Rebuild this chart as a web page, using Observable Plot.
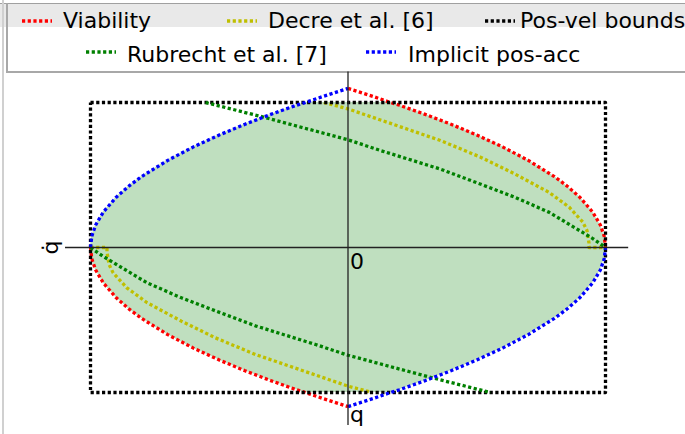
<!DOCTYPE html>
<html>
<head>
<meta charset="utf-8">
<script src="https://cdn.jsdelivr.net/npm/d3@7"></script>
<script src="https://cdn.jsdelivr.net/npm/@observablehq/plot@0.6"></script>
<style>
html,body{margin:0;padding:0;background:#fff;}
#wrap{position:relative;width:685px;height:434px;overflow:hidden;font-family:"DejaVu Sans",sans-serif;}
#frameLeft{position:absolute;left:2px;top:0;width:2px;height:434px;background:#d0d0d0;z-index:5;}
#legend{display:block;}
#chart svg{display:block;}
</style>
</head>
<body>
<div id="wrap">
  <div id="frameLeft"></div>
  <svg id="legend" width="685" height="73"></svg>
  <div id="chart"></div>
</div>
<script>
// ---- data (q = position, v = velocity, normalised to the pos-vel bounds) ----
const boundsQ = [-1, 1];
const boundsV = [-1, 1];

const viabilityUpper = [[0,1.097],[0.1,1.04],[0.165,1.0],[0.2,0.981],[0.3,0.918],[0.4,0.85],[0.5,0.776],[0.6,0.694],[0.7,0.601],[0.8,0.491],[0.85,0.425],[0.9,0.347],[0.95,0.245],[0.98,0.155],[0.995,0.078],[1,0]];
const viabilityLower = [[-1,0],[-0.995,-0.078],[-0.98,-0.155],[-0.95,-0.245],[-0.9,-0.347],[-0.85,-0.425],[-0.8,-0.491],[-0.7,-0.601],[-0.6,-0.694],[-0.5,-0.776],[-0.4,-0.85],[-0.3,-0.918],[-0.2,-0.981],[-0.165,-1.0],[-0.1,-1.04],[0,-1.097]];
const implicitUpper = [[-1,0],[-0.995,0.078],[-0.98,0.155],[-0.95,0.245],[-0.9,0.347],[-0.85,0.425],[-0.8,0.491],[-0.7,0.601],[-0.6,0.694],[-0.5,0.776],[-0.4,0.85],[-0.3,0.918],[-0.2,0.981],[-0.165,1.0],[-0.1,1.04],[0,1.097]];
const implicitLower = [[0,-1.097],[0.1,-1.04],[0.165,-1.0],[0.2,-0.981],[0.3,-0.918],[0.4,-0.85],[0.5,-0.776],[0.6,-0.694],[0.7,-0.601],[0.8,-0.491],[0.85,-0.425],[0.9,-0.347],[0.95,-0.245],[0.98,-0.155],[0.995,-0.078],[1,0]];

const decreUpper = [[-0.094,1.0],[0,0.956],[0.178,0.848],[0.359,0.738],[0.515,0.623],[0.647,0.508],[0.78,0.381],[0.859,0.278],[0.912,0.175],[0.928,0.117],[0.936,0.03],[0.936,0],[1,0]];
const decreLower = [[-1,0],[-0.936,0],[-0.936,-0.03],[-0.928,-0.117],[-0.912,-0.175],[-0.859,-0.278],[-0.78,-0.381],[-0.647,-0.508],[-0.515,-0.623],[-0.359,-0.738],[-0.178,-0.848],[0,-0.956],[0.094,-1.0]];

const rubrechtUpper = [[-0.553,1.0],[-0.328,0.899],[0,0.743],[0.126,0.669],[0.36,0.54],[0.528,0.428],[0.647,0.347],[0.78,0.244],[0.899,0.117],[0.952,0.06],[1,0]];
const rubrechtLower = [[-1,0],[-0.952,-0.06],[-0.899,-0.117],[-0.78,-0.244],[-0.647,-0.347],[-0.528,-0.428],[-0.36,-0.54],[-0.126,-0.669],[0,-0.743],[0.328,-0.899],[0.553,-1.0]];

const seriesNames = ["Viability", "Decre et al. [6]", "Pos-vel bounds", "Rubrecht et al. [7]", "Implicit pos-acc"];
const seriesColors = ["#ff0000", "#bfbf00", "#000000", "#008000", "#0000ff"];

// ---- derived tables ----
const [qMin, qMax] = boundsQ, [vMin, vMax] = boundsV;
const boxPts = [[qMin,vMax],[qMax,vMax],[qMax,vMin],[qMin,vMin],[qMin,vMax]];
const fillRows = [];
implicitUpper.forEach((p, i) => fillRows.push({q: p[0], hi: Math.min(vMax, p[1]), lo: Math.max(vMin, viabilityLower[i][1])}));
viabilityUpper.forEach((p, i) => { if (i > 0) fillRows.push({q: p[0], hi: Math.min(vMax, p[1]), lo: Math.max(vMin, implicitLower[i][1])}); });

const dash = "3.2,2.5";
const lineOpts = (c) => ({x: d => d[0], y: d => d[1], stroke: c, strokeWidth: 3.3, strokeDasharray: dash, strokeLinecap: "butt"});

const plot = Plot.plot({
  width: 685,
  height: 361,
  margin: 0,
  x: {domain: [-1, 1], range: [90, 605], axis: null},
  y: {domain: [-1, 1], range: [319, 29], axis: null},
  style: {fontFamily: "DejaVu Sans", fontSize: "22px", background: "transparent", overflow: "visible"},
  marks: [
    Plot.areaY(fillRows, {x: "q", y1: "lo", y2: "hi", fill: "#bfdfbf"}),
    Plot.line(viabilityUpper, lineOpts(seriesColors[0])),
    Plot.line(viabilityLower, lineOpts(seriesColors[0])),
    Plot.line(decreUpper, lineOpts(seriesColors[1])),
    Plot.line(decreLower, lineOpts(seriesColors[1])),
    Plot.line(boxPts, lineOpts(seriesColors[2])),
    Plot.line(rubrechtUpper, lineOpts(seriesColors[3])),
    Plot.line(rubrechtLower, lineOpts(seriesColors[3])),
    Plot.line(implicitUpper, lineOpts(seriesColors[4])),
    Plot.line(implicitLower, lineOpts(seriesColors[4])),
    Plot.ruleY([0], {x1: -1.097, x2: 1.09, stroke: "#222", strokeWidth: 1.3}),
    Plot.ruleX([0], {y1: 1.21, y2: -1.228, stroke: "#222", strokeWidth: 1.3}),
    Plot.text(["0"], {x: () => 0, y: () => 0, text: d => d, dx: 2, dy: 21, textAnchor: "start", lineAnchor: "bottom", fill: "#000"}),
    Plot.text(["q"], {x: () => 0, y: () => -1.2, text: d => d, dx: 2, textAnchor: "start", lineAnchor: "bottom", fill: "#000"}),
    Plot.text(["q\u0307"], {x: () => -1.128, y: () => 0, text: d => d, rotate: -90, textAnchor: "middle", lineAnchor: "bottom", fill: "#000"})
  ]
});
document.getElementById("chart").appendChild(plot);

// ---- legend ----
const leg = d3.select("#legend");
leg.append("rect").attr("x", 0).attr("y", 3).attr("width", 685).attr("height", 24).attr("fill", "#e9e9e9");
leg.append("line").attr("x1", 0).attr("x2", 685).attr("y1", 3.5).attr("y2", 3.5).attr("stroke", "#a0a0a0").attr("stroke-width", 1);
leg.append("path").attr("d", "M7,3V72H685").attr("fill", "none").attr("stroke", "#a8a8a8").attr("stroke-width", 2);
const legendItems = [
  {i: 0, sx: 22, y: 21, tx: 63, by: 28},
  {i: 1, sx: 227, y: 21, tx: 268, by: 28},
  {i: 2, sx: 485, y: 21, tx: 520, by: 28},
  {i: 3, sx: 86, y: 52, tx: 127, by: 62},
  {i: 4, sx: 366, y: 52, tx: 408, by: 62}
];
legendItems.forEach(it => {
  leg.append("line").attr("x1", it.sx).attr("x2", it.sx + 30).attr("y1", it.y).attr("y2", it.y)
    .attr("stroke", seriesColors[it.i]).attr("stroke-width", 3.3).attr("stroke-dasharray", dash);
  leg.append("text").attr("x", it.tx).attr("y", it.by).attr("font-family", "DejaVu Sans").attr("font-size", 22)
    .attr("fill", "#000").text(seriesNames[it.i]);
});
</script>
</body>
</html>
